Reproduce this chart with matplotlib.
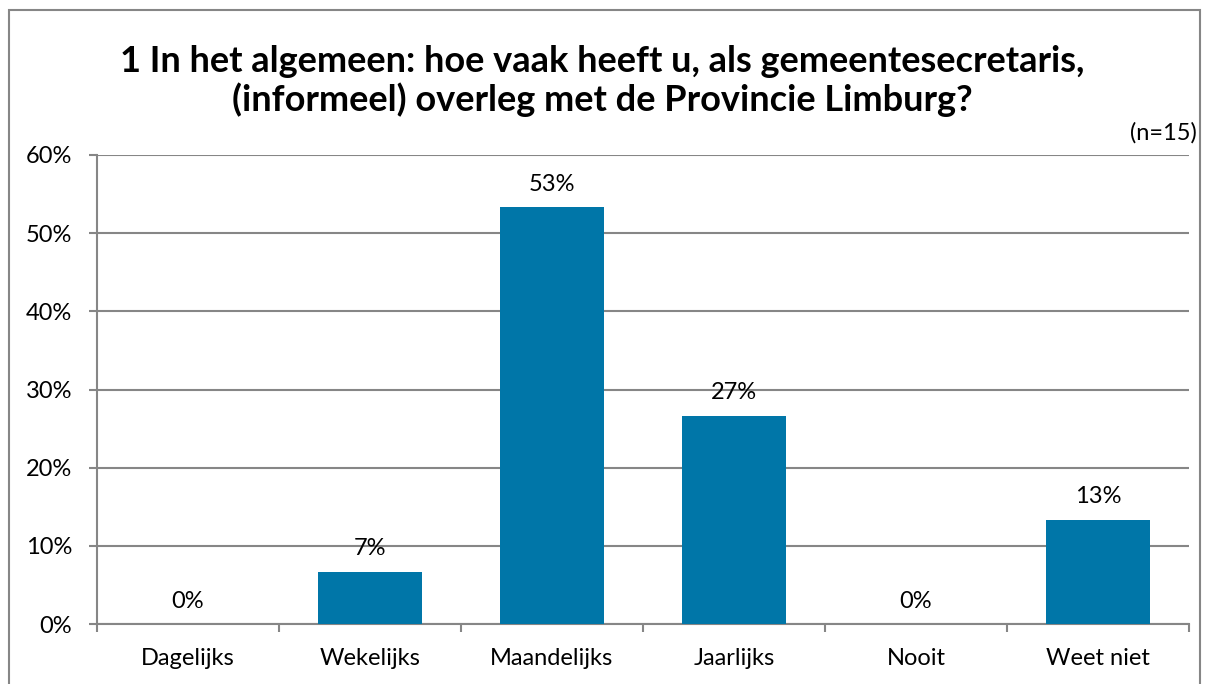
import matplotlib.pyplot as plt
from matplotlib.patches import Rectangle
from matplotlib.ticker import FuncFormatter

categories = ['Dagelijks', 'Wekelijks', 'Maandelijks', 'Jaarlijks', 'Nooit', 'Weet niet']
values = [0.0, 6.67, 53.33, 26.67, 0.0, 13.33]
labels = ['0%', '7%', '53%', '27%', '0%', '13%']

plt.rcParams['font.family'] = ['Lato', 'DejaVu Sans']
grey = '#868686'

fig = plt.figure(figsize=(12.05, 6.84), dpi=100)
ax = fig.add_axes([0.0805, 0.0877, 0.9062, 0.6857])

x = range(len(categories))
ax.bar(x, values, width=0.57, color='#0076A8', zorder=3)
for xi, v, lab in zip(x, values, labels):
    ax.annotate(lab, (xi, v), xytext=(0, 9), textcoords='offset points',
                ha='center', va='bottom', fontsize=17)

ax.set_xlim(-0.5, len(categories) - 0.5)
ax.set_ylim(0, 60)
ax.set_yticks(range(0, 61, 10))
ax.yaxis.set_major_formatter(FuncFormatter(lambda v, p: f'{v:.0f}%'))
ax.yaxis.grid(True, color=grey, linewidth=1.5, zorder=0)
ax.set_xticks(list(x))
ax.set_xticklabels(categories)
ax.set_xticks([i - 0.5 for i in range(len(categories) + 1)], minor=True)
ax.tick_params(axis='x', which='major', length=0, labelsize=17, pad=17)
ax.tick_params(axis='x', which='minor', length=6, width=1.5, color=grey)
ax.tick_params(axis='y', length=6, width=1.5, color=grey, labelsize=17, pad=12)
for s in ['top', 'right']:
    ax.spines[s].set_visible(False)
for s in ['left', 'bottom']:
    ax.spines[s].set_color(grey)
    ax.spines[s].set_linewidth(1.5)

fig.text(0.5, 0.882, '1 In het algemeen: hoe vaak heeft u, als gemeentesecretaris,\n(informeel) overleg met de Provincie Limburg?',
         ha='center', va='center', fontsize=26, fontweight='bold', linespacing=1.15)
fig.text(0.9935, 0.806, '(n=15)', ha='right', va='center', fontsize=17)

fig.patches.append(Rectangle((0.0075, -0.02), 0.9885, 1.005, transform=fig.transFigure,
                             fill=False, edgecolor=grey, linewidth=1.5))

fig.savefig('out.png', dpi=100)
